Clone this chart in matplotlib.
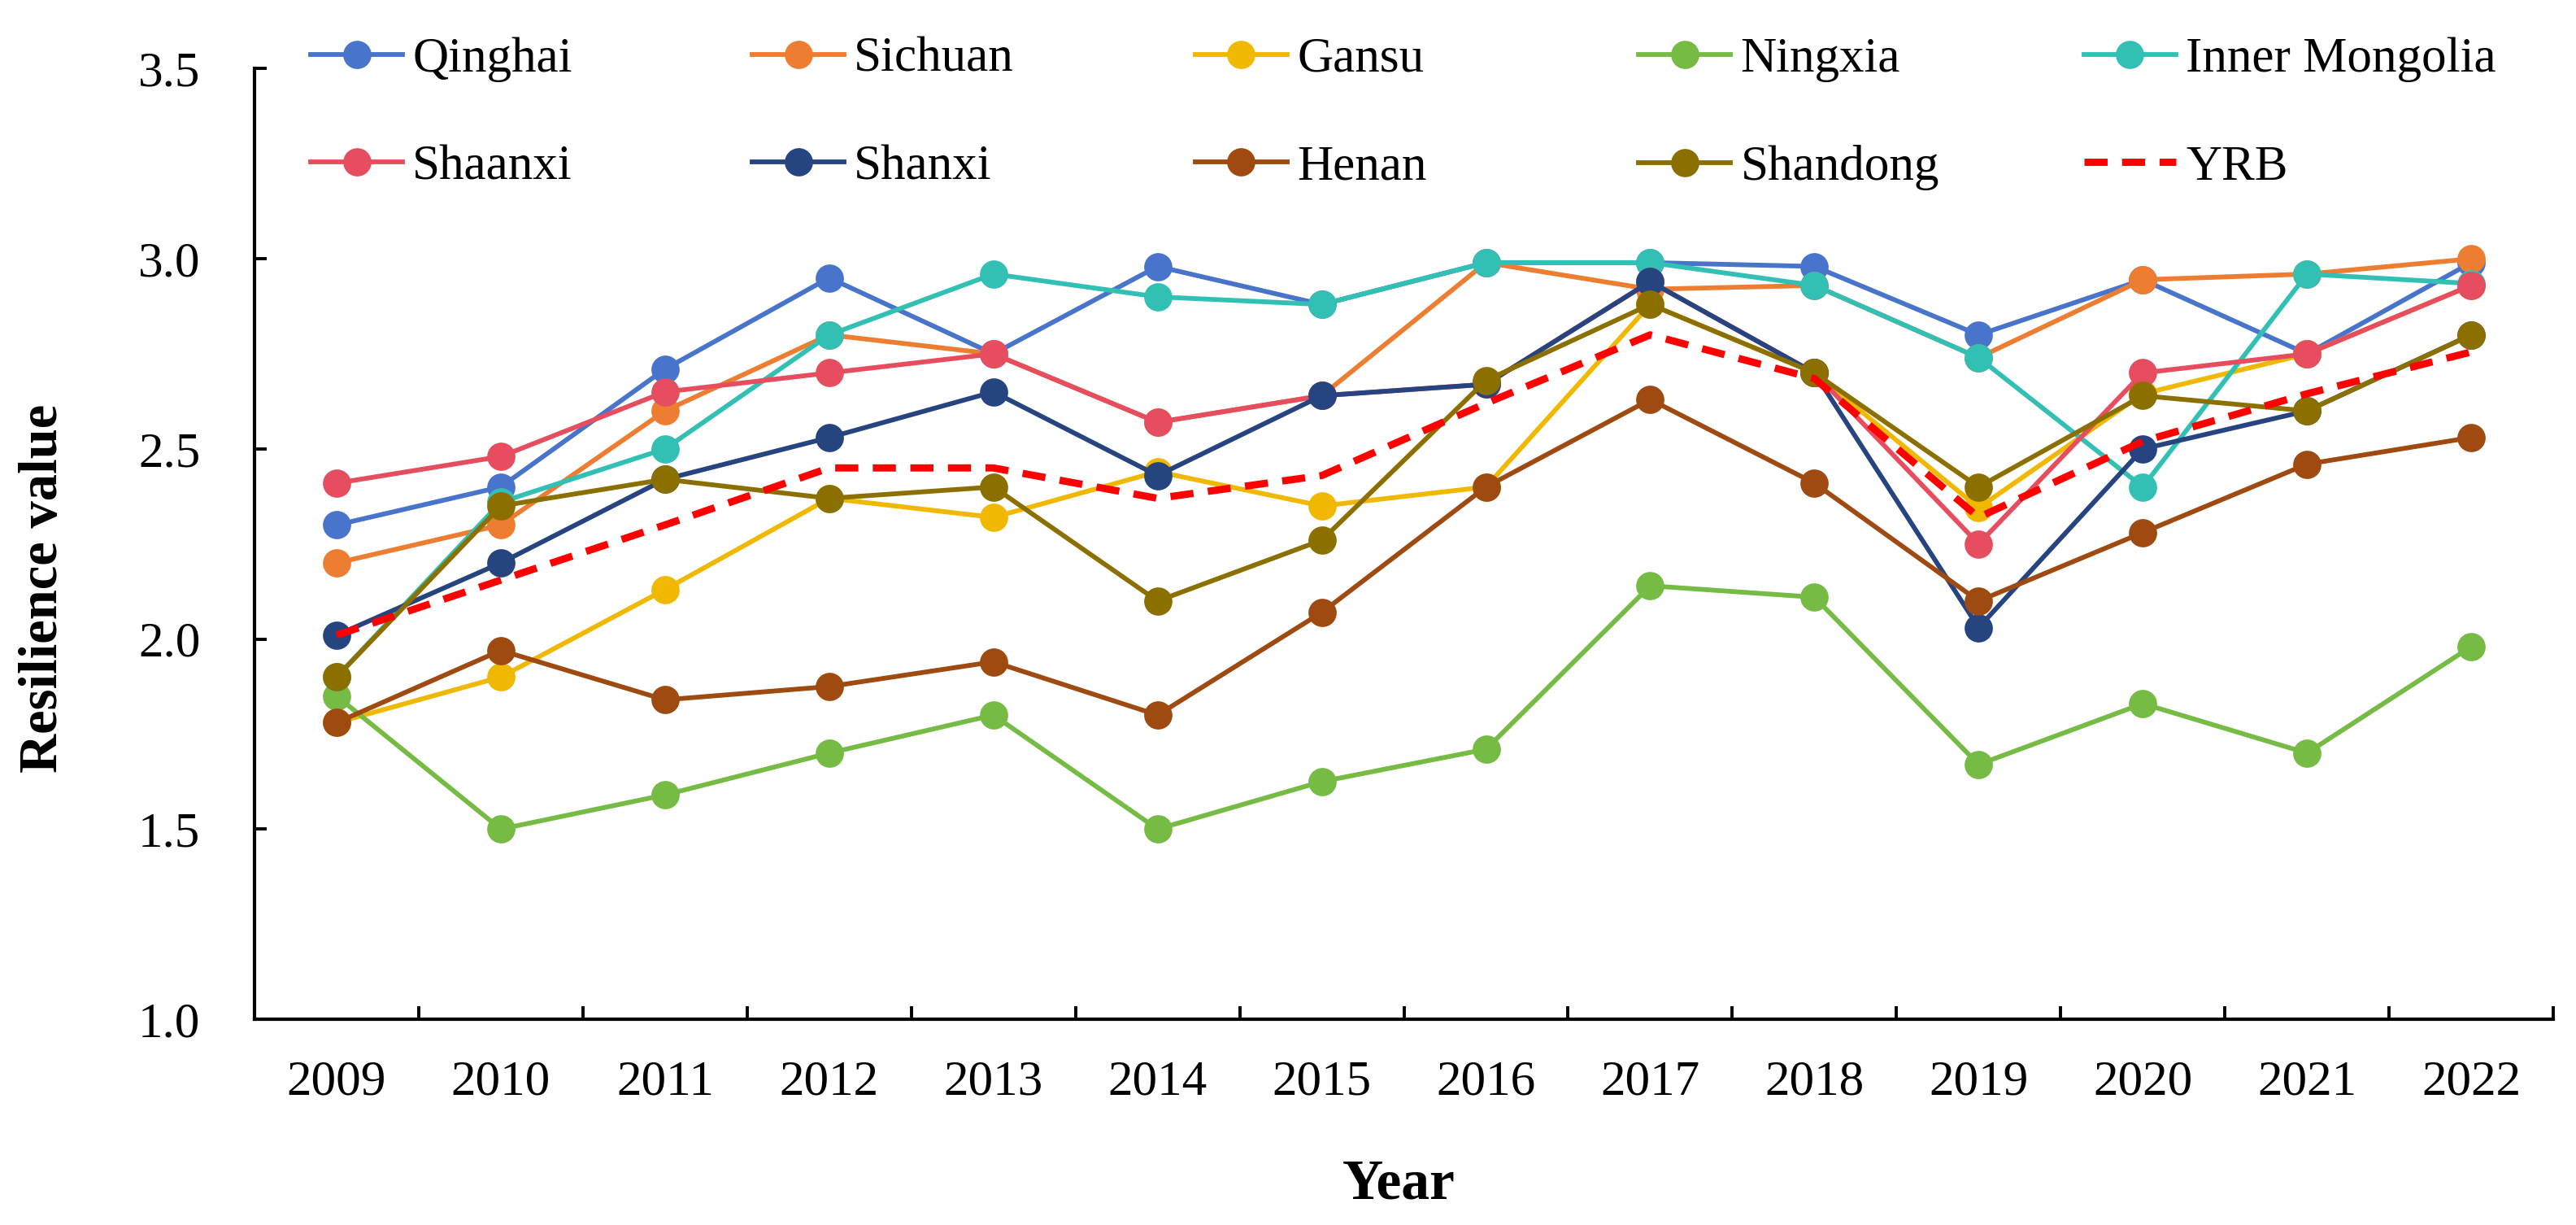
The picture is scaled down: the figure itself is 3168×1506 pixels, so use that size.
import numpy as np
import matplotlib
matplotlib.use("Agg")
import matplotlib.pyplot as plt
from matplotlib.ticker import FixedLocator, NullFormatter

plt.rcParams['font.family'] = ['Liberation Serif', 'DejaVu Serif']

# Data
years = [2009, 2010, 2011, 2012, 2013, 2014, 2015, 2016, 2017, 2018, 2019, 2020, 2021, 2022]

qinghai = [2.30, 2.40, 2.71, 2.95, 2.75, 2.98, 2.88, 2.99, 2.99, 2.98, 2.80, 2.945, 2.75, 2.99]
sichuan = [2.20, 2.30, 2.60, 2.80, 2.75, 2.57, 2.64, 2.99, 2.92, 2.93, 2.74, 2.945, 2.96, 3.00]
gansu = [1.78, 1.90, 2.13, 2.37, 2.32, 2.44, 2.35, 2.40, 2.88, 2.70, 2.345, 2.645, 2.75, 2.93]
ningxia = [1.85, 1.50, 1.59, 1.70, 1.80, 1.50, 1.625, 1.71, 2.14, 2.11, 1.67, 1.83, 1.70, 1.98]
inner_mongolia = [1.90, 2.36, 2.50, 2.80, 2.96, 2.90, 2.88, 2.99, 2.99, 2.93, 2.74, 2.40, 2.96, 2.935]
shaanxi = [2.41, 2.48, 2.65, 2.70, 2.75, 2.57, 2.64, 2.67, 2.94, 2.70, 2.25, 2.70, 2.75, 2.93]
shanxi = [2.01, 2.20, 2.42, 2.53, 2.65, 2.43, 2.64, 2.67, 2.94, 2.70, 2.03, 2.50, 2.60, 2.80]
henan = [1.78, 1.97, 1.84, 1.875, 1.94, 1.80, 2.07, 2.40, 2.63, 2.41, 2.10, 2.28, 2.46, 2.53]
shandong = [1.90, 2.35, 2.42, 2.37, 2.40, 2.10, 2.26, 2.68, 2.88, 2.70, 2.40, 2.64, 2.60, 2.80]
yrb = [2.01, 2.155, 2.30, 2.45, 2.45, 2.37, 2.43, 2.62, 2.80, 2.685, 2.32, 2.52, 2.645, 2.755]

names = ['Qinghai', 'Sichuan', 'Gansu', 'Ningxia', 'Inner Mongolia',
         'Shaanxi', 'Shanxi', 'Henan', 'Shandong']
series = [qinghai, sichuan, gansu, ningxia, inner_mongolia,
          shaanxi, shanxi, henan, shandong]
colors = ['#4874CB', '#ED7D31', '#F0B800', '#75BB44', '#33C0B4',
          '#E64E60', '#264480', '#9E4A10', '#8B7000']

fig = plt.figure(figsize=(15.84, 7.53), dpi=200)
ax = fig.add_axes([0.0988, 0.168, 0.8924, 0.7759])

x = np.arange(len(years))
handles = {}
for name, vals, c in zip(names, series, colors):
    h, = ax.plot(x, vals, color=c, lw=2.1, marker='o', markersize=12.5,
                 markeredgewidth=0, label=name)
    handles[name] = h
h, = ax.plot(x, yrb, color='#FF0000', lw=3.2, ls=(0, (3.2, 2.0)), label='YRB')
handles['YRB'] = h

ax.set_xlim(-0.5, len(years) - 0.5)
ax.set_ylim(1.0, 3.5)
ax.set_yticks([1.0, 1.5, 2.0, 2.5, 3.0, 3.5])
ax.set_yticklabels(['1.0', '1.5', '2.0', '2.5', '3.0', '3.5'])
ax.set_xticks(x)
ax.set_xticklabels([str(y) for y in years])
ax.xaxis.set_minor_locator(FixedLocator(np.arange(-0.5, len(years), 1.0)))
ax.xaxis.set_minor_formatter(NullFormatter())

ax.tick_params(axis='x', which='major', length=0, pad=18, labelsize=22)
ax.tick_params(axis='x', which='minor', direction='in', length=5.7, width=1.4)
ax.tick_params(axis='y', which='major', direction='in', length=5.4, width=1.4,
               pad=24, labelsize=22)

for side in ['top', 'right']:
    ax.spines[side].set_visible(False)
for side in ['left', 'bottom']:
    ax.spines[side].set_linewidth(1.5)

ax.set_xlabel('Year', fontsize=25, fontweight='bold')
ax.set_ylabel('Resilience value', fontsize=24, fontweight='bold')
ax.xaxis.set_label_coords(0.4977, -0.147)
ax.yaxis.set_label_coords(-0.081, 0.4536)

# legend: five equal columns, two rows
order = [['Qinghai', 'Shaanxi'], ['Sichuan', 'Shanxi'], ['Gansu', 'Henan'],
         ['Ningxia', 'Shandong'], ['Inner Mongolia', 'YRB']]
col_x = [0.1206, 0.2920, 0.4640, 0.6361, 0.8090]
for cx, col in zip(col_x, order):
    leg = fig.legend([handles[n] for n in col], col, loc='upper left',
                     bbox_to_anchor=(cx, 0.970), frameon=False, fontsize=22,
                     borderpad=0, borderaxespad=0, handlelength=1.85,
                     handletextpad=0.2, labelspacing=1.26)

fig.savefig('out.png', dpi=200)
